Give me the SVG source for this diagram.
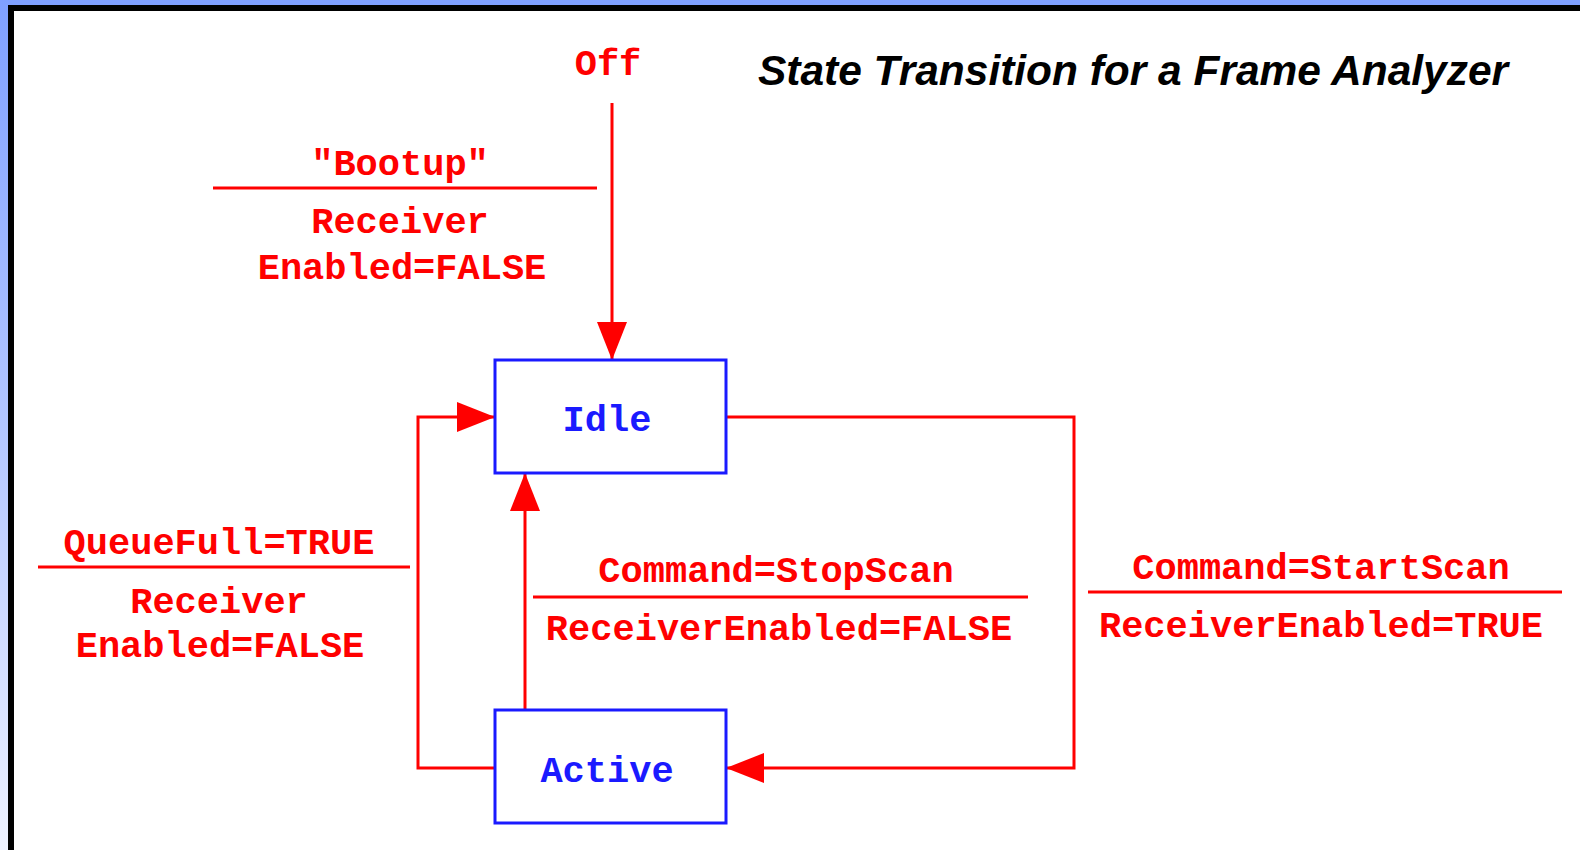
<svg xmlns="http://www.w3.org/2000/svg" width="1580" height="850" viewBox="0 0 1580 850">
  <defs>
    <linearGradient id="edgeFade" x1="0" y1="0" x2="0" y2="1">
      <stop offset="0" stop-color="#7fa0ff"/>
      <stop offset="0.5" stop-color="#b3c6ff"/>
      <stop offset="1" stop-color="#eef2ff"/>
    </linearGradient>
    <marker id="arrow" markerUnits="userSpaceOnUse" markerWidth="40" markerHeight="32" viewBox="0 0 40 32" refX="38" refY="16" orient="auto">
      <path d="M0,1 L38,16 L0,31 z" fill="#ff0000"/>
    </marker>
    <style>
      .state rect { fill: #ffffff; stroke: #1a1aff; stroke-width: 3; }
      .state text { font-family: "Liberation Mono", "Courier New", monospace; font-weight: bold; font-size: 37px; fill: #1a1aff; text-anchor: middle; }
      .wire { fill: none; stroke: #ff0000; stroke-width: 3; }
      .guard text { font-family: "Liberation Mono", "Courier New", monospace; font-weight: bold; font-size: 37px; fill: #ff0000; text-anchor: middle; }
      .guard line { stroke: #ff0000; stroke-width: 3; }
      .title { font-family: "Liberation Sans", Arial, sans-serif; font-weight: bold; font-style: italic; font-size: 43px; fill: #000000; }
    </style>
  </defs>

  <!-- page frame -->
  <rect x="0" y="0" width="1580" height="850" fill="#ffffff"/>
  <rect x="0" y="0" width="1580" height="6" fill="#7fa0ff"/>
  <rect x="0" y="0" width="8" height="850" fill="url(#edgeFade)"/>
  <rect x="8" y="5" width="1572" height="6" fill="#000000"/>
  <rect x="8" y="5" width="6" height="845" fill="#000000"/>

  <text class="title" x="758" y="85" textLength="750" lengthAdjust="spacingAndGlyphs">State Transition for a Frame Analyzer</text>

  <!-- transitions -->
  <g id="connectors">
    <path class="wire" d="M612,103 V360" marker-end="url(#arrow)"/>
    <path class="wire" d="M495,768 H418 V417 H495" marker-end="url(#arrow)"/>
    <path class="wire" d="M525,710 V473" marker-end="url(#arrow)"/>
    <path class="wire" d="M726,417 H1074 V768 H726" marker-end="url(#arrow)"/>
  </g>

  <!-- states -->
  <g id="idle" class="state">
    <rect x="495" y="360" width="231" height="113"/>
    <text x="607" y="431">Idle</text>
  </g>
  <g id="active" class="state">
    <rect x="495" y="710" width="231" height="113"/>
    <text x="607" y="782">Active</text>
  </g>

  <!-- transition labels: event over action -->
  <g id="off" class="guard">
    <text x="608" y="75">Off</text>
  </g>
  <g id="bootup" class="guard">
    <text x="400" y="175">"Bootup"</text>
    <line x1="213" y1="188" x2="597" y2="188"/>
    <text x="400" y="233">Receiver</text>
    <text x="402" y="279">Enabled=FALSE</text>
  </g>
  <g id="queuefull" class="guard">
    <text x="219" y="554">QueueFull=TRUE</text>
    <line x1="38" y1="567" x2="410" y2="567"/>
    <text x="219" y="613">Receiver</text>
    <text x="220" y="657">Enabled=FALSE</text>
  </g>
  <g id="stopscan" class="guard">
    <text x="776" y="582">Command=StopScan</text>
    <line x1="533" y1="597" x2="1028" y2="597"/>
    <text x="779" y="640">ReceiverEnabled=FALSE</text>
  </g>
  <g id="startscan" class="guard">
    <text x="1321" y="579">Command=StartScan</text>
    <line x1="1088" y1="592" x2="1562" y2="592"/>
    <text x="1321" y="637">ReceiverEnabled=TRUE</text>
  </g>
</svg>
